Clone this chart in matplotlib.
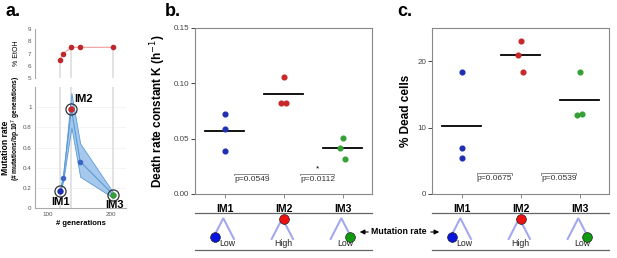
import matplotlib
matplotlib.use('Agg')
import matplotlib.pyplot as plt
from matplotlib.patches import FancyArrowPatch
import numpy as np

plt.rcParams['font.family'] = ['Liberation Sans', 'DejaVu Sans']

# panel a data
generations = [119, 124, 137, 151, 204]
etoh = [6.5, 7.0, 7.5, 7.5, 7.5]
mut_rate = [0.17, 0.30, 0.98, 0.46, 0.13]
mut_lo = [0.15, 0.27, 0.80, 0.31, 0.10]
mut_hi = [0.19, 0.32, 1.14, 0.64, 0.15]
im_idx = [0, 2, 4]  # IM1, IM2, IM3 in the series

# panels b / c data
strains = ['IM1', 'IM2', 'IM3']
death_k = [[0.072, 0.059, 0.039], [0.106, 0.082, 0.082], [0.051, 0.042, 0.032]]
death_mean = [0.057, 0.090, 0.042]
dead_pct = [[18.3, 6.9, 5.4], [23.0, 21.0, 18.4], [18.3, 11.9, 12.0]]
dead_mean = [10.2, 20.9, 14.1]
p_b = ['p=0.0549', 'p=0.0112']
p_c = ['p=0.0675', 'p=0.0539']
rate_lbl = ['Low', 'High', 'Low']

dot_cols = ['#1f2fb0', '#c8282a', '#35a035']
sch_cols = ['#0a14e0', '#ee1111', '#109a10']
jit = [[0, 0, 0], [0, -0.05, 0.05], [0, -0.05, 0.05]]

W, H = 617, 258
fig = plt.figure(figsize=(W / 100, H / 100), dpi=100)


def box(l, t, w, h):
    return [l / W, 1 - (t + h) / H, w / W, h / H]


gray = '#888888'

# ---------- panel a ----------
ax_e = fig.add_axes(box(35, 29, 91, 49))
ax_m = fig.add_axes(box(35, 87, 91, 121))
for ax in (ax_e, ax_m):
    ax.set_xlim(79, 224)
    for s in ('top', 'right'):
        ax.spines[s].set_visible(False)
    ax.spines['left'].set_color('#aaaaaa')
    ax.spines['bottom'].set_color('#aaaaaa')
    ax.tick_params(length=0, labelsize=4.5, colors='#555555', pad=2.5)
ax_e.spines['bottom'].set_visible(False)
ax_e.set_xticks([])
ax_e.set_ylim(5, 9)
ax_e.set_yticks([5, 6, 7, 8, 9])
fig.text(16 / W, 1 - 53 / H, '% EtOH', rotation=90, fontsize=5, ha='center', va='center')
ax_e.plot(generations, etoh, color='#f0a8a8', lw=0.9, zorder=2)
ax_e.plot(generations, etoh, 'o', color='#c0282d', ms=3, zorder=3)
for i in im_idx:
    ax_e.plot([generations[i]] * 2, [5, etoh[i]], color='#dedede', lw=1.2, zorder=1)
    ax_m.plot([generations[i]] * 2, [0, 1.2], color='#dedede', lw=1.2, zorder=1)

ax_m.set_ylim(0, 1.2)
ax_m.set_yticks([0, 0.2, 0.4, 0.6, 0.8, 1])
ax_m.set_yticklabels(['0', '0.2', '0.4', '0.6', '0.8', '1'])
for yv in [0.2, 0.4, 0.6, 0.8, 1.0]:
    ax_m.axhline(yv, color='#f3f3f3', lw=0.6, zorder=0)
ax_m.set_xticks([100, 200])
ax_m.tick_params(axis='x', pad=3)
ax_m.fill_between(generations, mut_lo, mut_hi, color='#a6c8ec', edgecolor='#5b9bd5',
                  lw=0.6, zorder=2)
ax_m.plot(generations, mut_rate, color='#5b9bd5', lw=0.8, zorder=3)
ax_m.plot(generations, mut_rate, 'o', color='#3a66c4', ms=3, zorder=4)
for k, i in enumerate(im_idx):
    ax_m.plot(generations[i], mut_rate[i], 'o', mfc='none', mec='#333333', mew=0.9,
              ms=8, zorder=5)
    ax_m.plot(generations[i], mut_rate[i], 'o', color=dot_cols[k], ms=3.5, zorder=6)
ax_m.text(generations[0], mut_rate[0] - 0.06, 'IM1', ha='center', va='top',
          fontsize=8, fontweight='bold')
ax_m.text(generations[2] + 4, mut_rate[2] + 0.05, 'IM2', ha='left', va='bottom',
          fontsize=8, fontweight='bold')
ax_m.text(generations[4] + 2, mut_rate[4] - 0.05, 'IM3', ha='center', va='top',
          fontsize=8, fontweight='bold')
ax_m.set_xlabel('# generations', fontsize=5.5, fontweight='bold', labelpad=2)
fig.text(6 / W, 1 - 148 / H, 'Mutation rate', rotation=90, fontsize=6.2,
         fontweight='bold', ha='center', va='center')
fig.text(16 / W, 1 - 128 / H, '(# mutations/bp.10$^7$ generations)', rotation=90,
         fontsize=4.8, fontweight='bold', ha='center', va='center')

fig.text(5 / W, 1 - 12 / H, 'a.', fontsize=13, fontweight='bold', va='center')
fig.text(165 / W, 1 - 12 / H, 'b.', fontsize=13, fontweight='bold', va='center')
fig.text(397 / W, 1 - 12 / H, 'c.', fontsize=13, fontweight='bold', va='center')


# ---------- panels b / c ----------
def dot_panel(left, vals, means, ylim, yticks, yticklabels, ylabel, pvals, pspans, py,
              star=None):
    ax = fig.add_axes(box(left, 28, 177, 166))
    ax.set_xlim(0.5, 3.5)
    ax.set_ylim(*ylim)
    for s in ax.spines.values():
        s.set_color(gray)
        s.set_linewidth(0.8)
    ax.set_yticks(yticks)
    ax.set_yticklabels(yticklabels)
    ax.set_xticks([1, 2, 3])
    ax.set_xticklabels(strains, fontsize=7.5, fontweight='bold')
    ax.tick_params(axis='y', labelsize=5.8, colors='#444444', length=3, width=0.7, pad=1)
    ax.tick_params(axis='x', length=3, width=0.7, colors=gray, labelcolor='black', pad=4)
    ax.set_ylabel(ylabel, fontsize=8.5, fontweight='bold', labelpad=4)
    for i in range(3):
        ax.plot(np.array(jit[i]) + i + 1, vals[i], 'o', color=dot_cols[i], ms=3.4, zorder=3)
        ax.plot([i + 1 - 0.33, i + 1 + 0.33], [means[i]] * 2, color='black', lw=1.3)
    tick = (ylim[1] - ylim[0]) * 0.008
    for (x0, x1), p in zip(pspans, pvals):
        ax.plot([x0, x0, x1, x1], [py - tick, py, py, py - tick], color='#777777', lw=0.6)
        ax.text(x0, py - tick * 1.5, p, fontsize=6, color='#333333', va='top', ha='left')
    if star is not None:
        x0, x1 = pspans[star]
        ax.text((x0 + x1) / 2, py + tick * 0.5, '*', fontsize=6, ha='center', va='bottom')

    # schematic strip
    sc = fig.add_axes(box(left, 213, 177, 37))
    sc.set_xlim(0.5, 3.5)
    sc.set_ylim(0, 1)
    sc.set_xticks([])
    sc.set_yticks([])
    sc.patch.set_alpha(0)
    for s in ('left', 'right'):
        sc.spines[s].set_visible(False)
    for s in ('top', 'bottom'):
        sc.spines[s].set_color('#666666')
        sc.spines[s].set_linewidth(0.9)
    for i in range(3):
        c = i + 1
        sc.plot([c - 0.2, c - 0.02, c + 0.16], [0.3, 0.86, 0.3], color='#a4a8f0', lw=1.5,
                solid_joinstyle='miter')
        pos = [(c - 0.16, 0.36), (c, 0.84), (c + 0.12, 0.36)][i]
        sc.plot(*pos, 'o', color=sch_cols[i], mec='#222222', mew=0.5, ms=7, zorder=4)
        sc.text(c + (0.05 if i != 1 else 0), 0.05, rate_lbl[i], fontsize=6.3, ha='center',
                va='bottom', color='#222222')
    return ax


dot_panel(195, death_k, death_mean, (0, 0.15), [0, 0.05, 0.10, 0.15],
          ['0.00', '0.05', '0.10', '0.15'], 'Death rate constant K (h$^{-1}$)',
          p_b, [(1.16, 1.74), (2.28, 2.86)], 0.0185, star=1)
dot_panel(432, dead_pct, dead_mean, (0, 25), [0, 10, 20], ['0', '10', '20'],
          '% Dead cells', p_c, [(1.26, 1.86), (2.35, 2.94)], 3.1)

# mutation rate arrows between b and c
ya = 1 - 232 / H
fig.text(399 / W, ya, 'Mutation rate', fontsize=6.3, fontweight='bold', ha='center',
         va='center')
arrow = dict(arrowstyle='-|>', color='black', lw=0.8, mutation_scale=7)
fig.add_artist(FancyArrowPatch((371 / W, ya), (357 / W, ya),
               transform=fig.transFigure, **arrow))
fig.add_artist(FancyArrowPatch((428 / W, ya), (442 / W, ya),
               transform=fig.transFigure, **arrow))

fig.savefig('out.png', dpi=100)
